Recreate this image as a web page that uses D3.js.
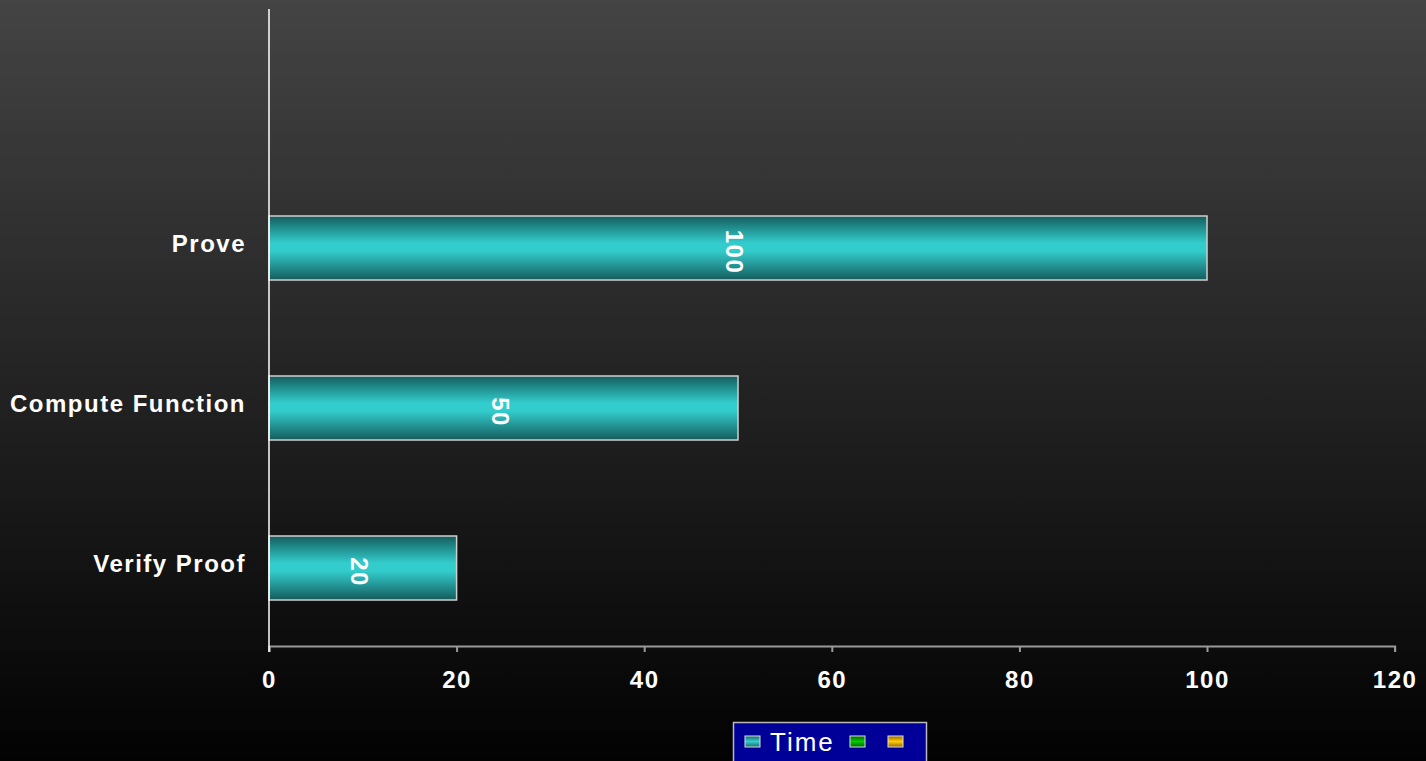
<!DOCTYPE html>
<meta charset="utf-8">
<html>
<head>
<title>Time</title>
<style>
  body { margin: 0; overflow: hidden; }
  svg { display: block; }
  .tick text { font-family: "Liberation Sans", Arial, sans-serif; font-weight: bold; font-size: 24px; letter-spacing: 1.5px; fill: #fff; }
  .label { font-family: "Liberation Sans", Arial, sans-serif; font-weight: bold; font-size: 24px; letter-spacing: 1.5px; fill: #fff; }
</style>
<script src="https://d3js.org/d3.v7.min.js"></script>
</head>
<body>
<svg width="1426" height="761"></svg>
<script>
  // data
  var categories = ["Verify Proof", "Compute Function", "Prove", ""];
  var values = [20, 50, 100];
  var xTicks = [0, 20, 40, 60, 80, 100, 120];
  var legendItems = ["Time", "", ""];
  var legendColors = [["#1b6b6b", "#33cccc"], ["#006600", "#00cc00"], ["#996600", "#ffcc00"]];

  var svg = d3.select("svg"),
      width = +svg.attr("width"),
      height = +svg.attr("height");

  var defs = svg.append("defs");
  var bg = defs.append("linearGradient").attr("id", "bg")
      .attr("x1", 0).attr("y1", 0).attr("x2", 0).attr("y2", 1);
  bg.append("stop").attr("offset", "0%").attr("stop-color", "#444444");
  bg.append("stop").attr("offset", "100%").attr("stop-color", "#020202");

  // bar gradient: dark edges, bright middle
  var bar = defs.append("linearGradient").attr("id", "bar")
      .attr("x1", 0).attr("y1", 0).attr("x2", 0).attr("y2", 1);
  bar.append("stop").attr("offset", "0%").attr("stop-color", "#145c5c");
  bar.append("stop").attr("offset", "42%").attr("stop-color", "#33cccc");
  bar.append("stop").attr("offset", "55%").attr("stop-color", "#33cccc");
  bar.append("stop").attr("offset", "100%").attr("stop-color", "#145c5c");

  legendColors.forEach(function (c, i) {
    var g = defs.append("linearGradient").attr("id", "lg" + i)
        .attr("x1", 0).attr("y1", 0).attr("x2", 0).attr("y2", 1);
    g.append("stop").attr("offset", "0%").attr("stop-color", c[0]);
    g.append("stop").attr("offset", "50%").attr("stop-color", c[1]);
    g.append("stop").attr("offset", "100%").attr("stop-color", c[0]);
  });

  svg.append("rect").attr("width", width).attr("height", height).attr("fill", "url(#bg)");

  var x = d3.scaleLinear()
      .domain([0, 120])
      .range([269, 1394.6]);

  var y = d3.scaleBand()
      .domain(categories.slice().reverse())
      .range([8, 648])
      .paddingInner(0.6)
      .paddingOuter(0.3);

  // x axis
  var xAxis = svg.append("g")
      .attr("transform", "translate(0,646)")
      .call(d3.axisBottom(x).tickValues(xTicks).tickSize(6).tickPadding(19));
  xAxis.select(".domain").attr("stroke", "#999").attr("stroke-width", 2);
  xAxis.selectAll(".tick line").attr("stroke", "#999").attr("stroke-width", 2);

  // bars
  var rows = categories.slice(0, values.length).map(function (c, i) { return {cat: c, v: values[i]}; });

  svg.append("g").selectAll("rect")
      .data(rows)
      .enter().append("rect")
      .attr("x", x(0))
      .attr("y", function (d) { return y(d.cat); })
      .attr("width", function (d) { return x(d.v) - x(0); })
      .attr("height", y.bandwidth())
      .attr("fill", "url(#bar)")
      .attr("stroke", "#cfcfcf")
      .attr("stroke-width", 1.5);

  // value labels rotated
  svg.append("g").selectAll("text")
      .data(rows)
      .enter().append("text")
      .attr("class", "label")
      .attr("text-anchor", "middle")
      .attr("transform", function (d) {
        var cx = (x(0) + x(d.v)) / 2, cy = y(d.cat) + y.bandwidth() / 2 + 4;
        return "translate(" + (cx - 12) + "," + cy + ") rotate(90)";
      })
      .text(function (d) { return d.v; });

  // category labels
  svg.append("g").selectAll("text")
      .data(rows)
      .enter().append("text")
      .attr("class", "label")
      .attr("text-anchor", "end")
      .attr("x", 246)
      .attr("y", function (d) { return y(d.cat) + y.bandwidth() / 2 + 4; })
      .text(function (d) { return d.cat; });

  // y axis line
  svg.append("line")
      .attr("x1", x(0)).attr("x2", x(0))
      .attr("y1", 9).attr("y2", 652)
      .attr("stroke", "#fff").attr("stroke-width", 1.5);

  // legend
  var lg = svg.append("g").attr("transform", "translate(733,722)");
  lg.append("rect").attr("x", 0.5).attr("y", 0.5).attr("width", 193).attr("height", 45)
      .attr("fill", "#000099").attr("stroke", "#bbbbbb").attr("stroke-width", 1.5);
  var lx = [12, 117, 155];
  legendItems.forEach(function (t, i) {
    lg.append("rect").attr("x", lx[i]).attr("y", 14).attr("width", 15).attr("height", 11)
        .attr("fill", "url(#lg" + i + ")").attr("stroke", "#ddd").attr("stroke-width", 1);
    if (t) {
      lg.append("text").attr("x", lx[i] + 25).attr("y", 29)
          .attr("font-family", "Liberation Sans, Arial, sans-serif")
          .attr("font-size", 26).attr("letter-spacing", 2).attr("fill", "#fff").text(t);
    }
  });
</script>
</body>
</html>
